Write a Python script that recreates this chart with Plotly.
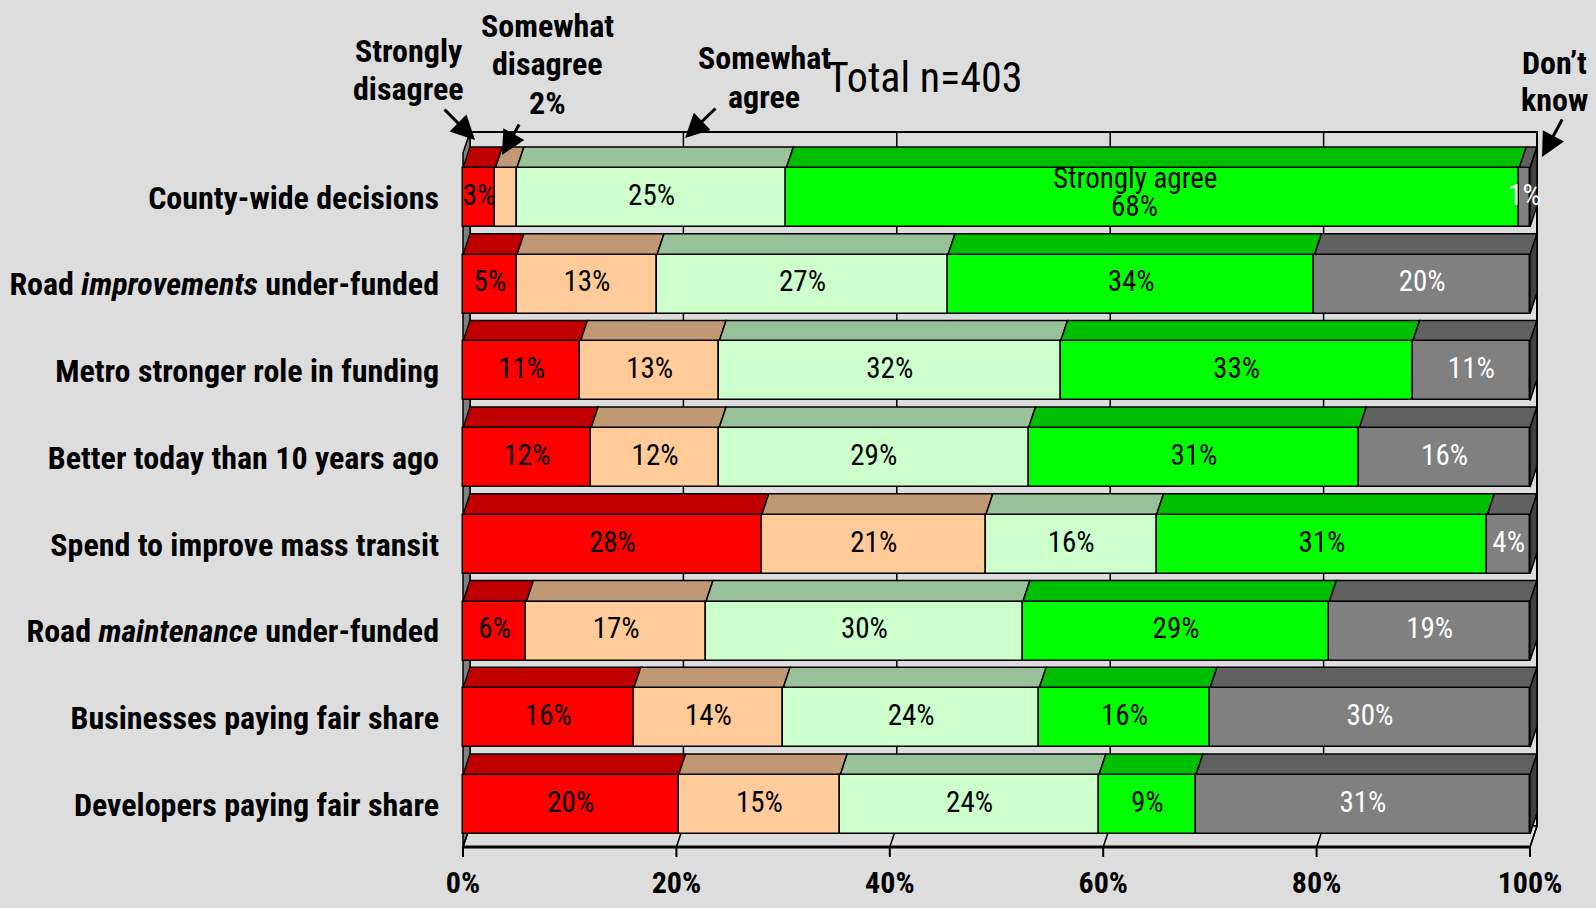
import plotly.graph_objects as go

# ---- data (percent of respondents, Total n=403) ----
categories = [
    "County-wide decisions",
    "Road <i>improvements</i> under-funded",
    "Metro stronger role in funding",
    "Better today than 10 years ago",
    "Spend to improve mass transit",
    "Road <i>maintenance</i> under-funded",
    "Businesses paying fair share",
    "Developers paying fair share",
]
responses = ["Strongly disagree", "Somewhat disagree", "Somewhat agree", "Strongly agree", "Don't know"]

strongly_disagree = [3, 5, 11, 12, 28, 6, 16, 20]
somewhat_disagree = [2, 13, 13, 12, 21, 17, 14, 15]
somewhat_agree = [25, 27, 32, 29, 16, 30, 24, 24]
strongly_agree = [68, 34, 33, 31, 31, 29, 16, 9]
dont_know = [1, 20, 11, 16, 4, 19, 30, 31]

x_ticks = [0, 20, 40, 60, 80, 100]
title_text = "Total n=403"

series = [strongly_disagree, somewhat_disagree, somewhat_agree, strongly_agree, dont_know]
front_colors = ["#FF0000", "#FFCC99", "#CCFFCC", "#00FF00", "#808080"]
top_colors = ["#C00000", "#C09873", "#99C199", "#00BF00", "#606060"]
side_color = "#404040"
label_colors = ["black", "black", "black", "black", "white"]
BG = "#DDDDDD"
FONT = "Roboto Condensed, Liberation Sans Narrow, Arial Narrow, sans-serif"

# ---- geometry (pixel layout of the page) ----
W, H = 1596, 908
L, R, T, B = 440, 1560, 100, 862
X0, X_PER = 463, 10.67      # pixel of 0%, pixels per percent
Y0, ROW_PX = 197.5, 86.7    # pixel centre of first row, pixels per row


def dy(p):
    return (p - Y0) / ROW_PX


def px(p):
    return (p - L) / (R - L)


def py(p):
    return (B - p) / (B - T)


BAR_W = 59 / ROW_PX
DX = 7 / X_PER
DY = 21 / ROW_PX
WALL_TOP = dy(132)
FLOOR_FRONT = dy(847)
FLOOR_BACK = FLOOR_FRONT - DY
TICK_END = dy(857)

n = len(categories)
rows = list(range(n))
totals = [sum(s[i] for s in series) for i in rows]
shares = [[s[i] / totals[i] * 100 for i in rows] for s in series]
bases = []
run = [0.0] * n
for sh in shares:
    bases.append(run[:])
    run = [run[i] + sh[i] for i in rows]

fig = go.Figure()


def poly(pts, fill, width=1.5):
    d = "M " + " L ".join(f"{x:.4f},{y:.4f}" for x, y in pts) + " Z"
    return dict(type="path", xref="x", yref="y", path=d, fillcolor=fill,
                line=dict(color="black", width=width), layer="below")


def seg(x1, y1, x2, y2, width=1.5):
    return dict(type="line", xref="x", yref="y", x0=x1, y0=y1, x1=x2, y1=y2,
                line=dict(color="black", width=width), layer="below")


shapes = []
# back wall with its gridlines
shapes.append(poly([(DX, WALL_TOP), (100 + DX, WALL_TOP), (100 + DX, FLOOR_BACK), (DX, FLOOR_BACK)], BG, 2))
for v in x_ticks[1:-1]:
    shapes.append(seg(v + DX, WALL_TOP, v + DX, FLOOR_BACK))
# side wall
shapes.append(poly([(0, WALL_TOP + DY), (DX, WALL_TOP), (DX, FLOOR_BACK), (0, FLOOR_FRONT)], "#808080"))
# floor, floor gridlines and tick marks
shapes.append(poly([(0, FLOOR_FRONT), (DX, FLOOR_BACK), (100 + DX, FLOOR_BACK), (100, FLOOR_FRONT)], BG))
for v in x_ticks:
    shapes.append(seg(v + DX, FLOOR_BACK, v, FLOOR_FRONT))
    shapes.append(seg(v, FLOOR_FRONT, v, TICK_END, 2))
shapes.append(seg(0, FLOOR_FRONT, 100, FLOOR_FRONT, 3))

# top faces of each segment, side face at the right end
for k, sh in enumerate(shares):
    for i in rows:
        a = bases[k][i]
        b = a + sh[i]
        yt = i - BAR_W / 2
        yb = i + BAR_W / 2
        shapes.append(poly([(a, yt), (a + DX, yt - DY), (b + DX, yt - DY), (b, yt)], top_colors[k]))
        if k == len(series) - 1:
            shapes.append(poly([(b, yt), (b + DX, yt - DY), (b + DX, yb - DY), (b, yb)], side_color))

# front faces
for k, sh in enumerate(shares):
    fig.add_trace(go.Bar(
        y=rows, x=sh, base=bases[k], orientation="h", width=BAR_W,
        name=responses[k], marker=dict(color=front_colors[k], line=dict(color="black", width=1.5)),
        hoverinfo="name+x",
    ))

# value labels (first row's 2% and 68% are shown with the callouts instead)
lx, ly, lt, lc = [], [], [], []
for k, s in enumerate(series):
    for i in rows:
        if i == 0 and k in (1, 3):
            continue
        lx.append(bases[k][i] + shares[k][i] / 2)
        ly.append(i)
        lt.append(f"{s[i]}%")
        lc.append(label_colors[k])
fig.add_trace(go.Scatter(
    x=lx, y=ly, text=lt, mode="text", textposition="middle center",
    textfont=dict(family=FONT, size=29, color=lc), cliponaxis=False, hoverinfo="skip",
))

annotations = []
# "Strongly agree 68%" inside the first bar
sa_x = bases[3][0] + shares[3][0] / 2 - 1.7
annotations.append(dict(x=sa_x, y=dy(178), xref="x", yref="y", text="Strongly agree", showarrow=False,
                        font=dict(family=FONT, size=29, color="black")))
annotations.append(dict(x=sa_x, y=dy(206), xref="x", yref="y", text=f"{strongly_agree[0]}%", showarrow=False,
                        font=dict(family=FONT, size=29, color="black")))


def callout(lines, cx, ys):
    for line, yy in zip(lines, ys):
        annotations.append(dict(x=px(cx), y=py(yy), xref="paper", yref="paper", text=line,
                                showarrow=False, xanchor="center", yanchor="middle",
                                font=dict(family=FONT, size=32, color="black", weight="bold")))


callout(["Strongly", "disagree"], 408, [51, 89])
callout(["Somewhat", "disagree", f"{somewhat_disagree[0]}%"], 547, [26, 64, 103])
callout(["Somewhat", "agree"], 764, [58, 97])
callout(["Don\u2019t", "know"], 1554, [63, 100])


def arrow(tail, tip):
    annotations.append(dict(x=px(tip[0]), y=py(tip[1]), xref="paper", yref="paper", text="",
                            showarrow=True, ax=tail[0] - tip[0], ay=tail[1] - tip[1],
                            arrowhead=2, arrowsize=1.6, arrowwidth=3, arrowcolor="black"))


arrow((443, 108), (475, 140))
arrow((520, 123), (502, 155))
arrow((717, 107), (685, 138))
arrow((1563, 118), (1542, 157))

annotations.append(dict(x=px(924), y=py(78), xref="paper", yref="paper", text=title_text, showarrow=False,
                        xanchor="center", yanchor="middle",
                        font=dict(family=FONT, size=42, color="black")))

fig.update_layout(
    width=W, height=H,
    margin=dict(l=L, r=W - R, t=T, b=H - B),
    paper_bgcolor=BG, plot_bgcolor=BG,
    barmode="overlay", bargap=0, showlegend=False,
    shapes=shapes, annotations=annotations,
    xaxis=dict(range=[(L - X0) / X_PER, (R - X0) / X_PER], tickvals=x_ticks, automargin=False,
               ticktext=[f"{v}%" for v in x_ticks], ticks="", showgrid=False, zeroline=False,
               showline=False, tickfont=dict(family=FONT, size=30, color="black", weight="bold")),
    yaxis=dict(range=[dy(B), dy(T)], tickvals=rows, ticktext=categories, ticks="", automargin=False,
               showgrid=False, zeroline=False, showline=False,
               tickfont=dict(family=FONT, size=32, color="black", weight="bold")),
)

fig.write_html("out.html", config={"displayModeBar": False},
               post_script="document.body.style.margin='0';document.body.style.background='%s';" % BG)
